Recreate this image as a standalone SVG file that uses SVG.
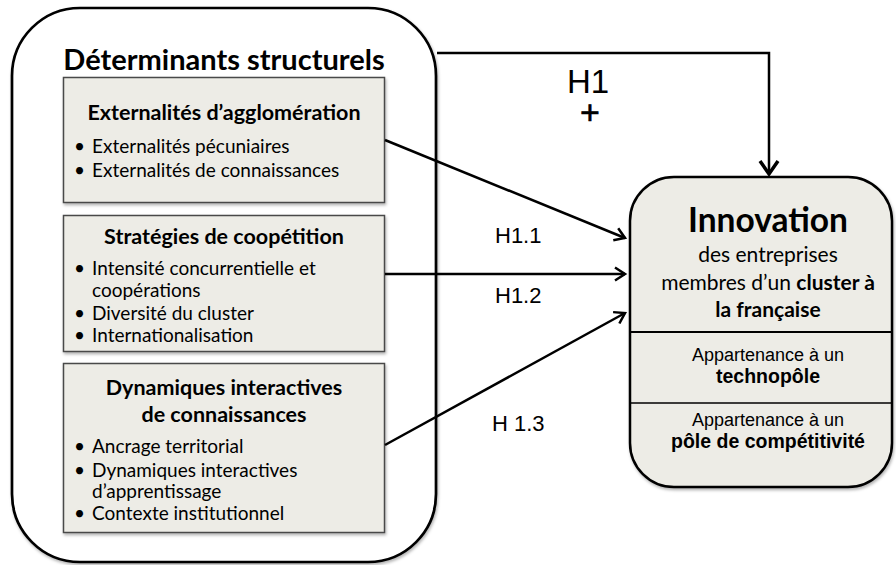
<svg xmlns="http://www.w3.org/2000/svg" width="896" height="565" viewBox="0 0 896 565">
<defs>
<style>
.cal{font-family:Lato,"Open Sans","DejaVu Sans",sans-serif;fill:#000}
.ar{font-family:"Liberation Sans",Arial,sans-serif;fill:#000}
.b{font-weight:bold}
.box{fill:#edece6;stroke:#4a4a4a;stroke-width:1.5}
.conn{fill:none;stroke:#000;stroke-width:2.5}
</style>
<filter id="sh" x="-5%" y="-5%" width="115%" height="115%">
<feDropShadow dx="1" dy="2" stdDeviation="1.5" flood-color="#000" flood-opacity="0.3"/>
</filter>
<marker id="arr" markerUnits="userSpaceOnUse" markerWidth="16" markerHeight="18" refX="12" refY="8" orient="auto" viewBox="0 0 16 16">
<path d="M2,1.5 L12,8 L2,14.5" fill="none" stroke="#000" stroke-width="2.5" stroke-linejoin="miter"/>
</marker>
<marker id="arrBig" markerUnits="userSpaceOnUse" markerWidth="20" markerHeight="22" refX="15" refY="10" orient="auto" viewBox="0 0 20 20">
<path d="M2,1 L15,10 L2,19" fill="none" stroke="#000" stroke-width="3.5" stroke-linejoin="miter"/>
</marker>
</defs>
<rect width="896" height="565" fill="#fff"/>

<g id="determinants">
<rect x="12" y="8" width="424" height="554" rx="68" ry="68" fill="#fff" stroke="#000" stroke-width="2.7" filter="url(#sh)"/>
<text class="cal b" x="224" y="70" font-size="29" text-anchor="middle">Déterminants structurels</text>
</g>

<g id="externalites">
<rect class="box" x="63.5" y="77.5" width="321" height="125" filter="url(#sh)"/>
<text class="cal b" x="224" y="120" font-size="21.5" text-anchor="middle">Externalités d’agglomération</text>
<text class="cal" font-size="19"><tspan x="74" y="153">•</tspan><tspan x="92" y="153">Externalités pécuniaires</tspan><tspan x="74" y="177">•</tspan><tspan x="92" y="177">Externalités de connaissances</tspan></text>
</g>

<g id="strategies">
<rect class="box" x="63.5" y="215.5" width="321" height="136" filter="url(#sh)"/>
<text class="cal b" x="224" y="244" font-size="21.5" text-anchor="middle">Stratégies de coopétition</text>
<text class="cal" font-size="19"><tspan x="74" y="275">•</tspan><tspan x="92" y="275">Intensité concurrentielle et</tspan><tspan x="92" y="297">coopérations</tspan><tspan x="74" y="320">•</tspan><tspan x="92" y="320">Diversité du cluster</tspan><tspan x="74" y="342">•</tspan><tspan x="92" y="342">Internationalisation</tspan></text>
</g>

<g id="dynamiques">
<rect class="box" x="63.5" y="363.5" width="321" height="169" filter="url(#sh)"/>
<text class="cal b" font-size="21.5" text-anchor="middle"><tspan x="224" y="395">Dynamiques interactives</tspan><tspan x="224" y="422">de connaissances</tspan></text>
<text class="cal" font-size="19"><tspan x="74" y="453">•</tspan><tspan x="92" y="453">Ancrage territorial</tspan><tspan x="74" y="477">•</tspan><tspan x="92" y="477">Dynamiques interactives</tspan><tspan x="92" y="498">d’apprentissage</tspan><tspan x="74" y="520">•</tspan><tspan x="92" y="520">Contexte institutionnel</tspan></text>
</g>

<g id="innovation">
<rect x="630" y="177" width="262" height="310" rx="44" ry="44" fill="#edece6" stroke="#000" stroke-width="2.5" filter="url(#sh)"/>
<line x1="630" y1="332" x2="892" y2="332" stroke="#000" stroke-width="2"/>
<line x1="630" y1="403" x2="892" y2="403" stroke="#000" stroke-width="1.5"/>
<text class="cal b" x="768" y="232" font-size="33.5" text-anchor="middle">Innovation</text>
<text class="cal" x="768" y="262" font-size="21" text-anchor="middle">des entreprises</text>
<text class="cal" x="768" y="290" font-size="21" text-anchor="middle">membres d’un <tspan class="b">cluster à</tspan></text>
<text class="cal b" x="768" y="317" font-size="21" text-anchor="middle">la française</text>
<text class="ar" x="768" y="361" font-size="18" text-anchor="middle">Appartenance à un</text>
<text class="ar b" x="768" y="383" font-size="19.5" text-anchor="middle">technopôle</text>
<text class="ar" x="768" y="426" font-size="18" text-anchor="middle">Appartenance à un</text>
<text class="ar b" x="768" y="448" font-size="19.5" text-anchor="middle">pôle de compétitivité</text>
</g>

<g id="connectors">
<path class="conn" d="M437,53 H769 V174" stroke-width="3.5" marker-end="url(#arrBig)"/>
<line class="conn" x1="385" y1="140" x2="625" y2="238" marker-end="url(#arr)"/>
<line class="conn" x1="385" y1="274" x2="625" y2="274" marker-end="url(#arr)"/>
<line class="conn" x1="385" y1="445" x2="625" y2="313" marker-end="url(#arr)"/>
</g>

<g id="labels">
<text class="ar" x="588" y="93" font-size="33" text-anchor="middle">H1</text>
<text class="ar" x="590" y="124" font-size="34" text-anchor="middle" stroke="#000" stroke-width="0.6">+</text>
<text class="ar" x="495" y="243" font-size="22">H1.1</text>
<text class="ar" x="495" y="303" font-size="22">H1.2</text>
<text class="ar" x="492" y="431" font-size="22">H 1.3</text>
</g>
</svg>
